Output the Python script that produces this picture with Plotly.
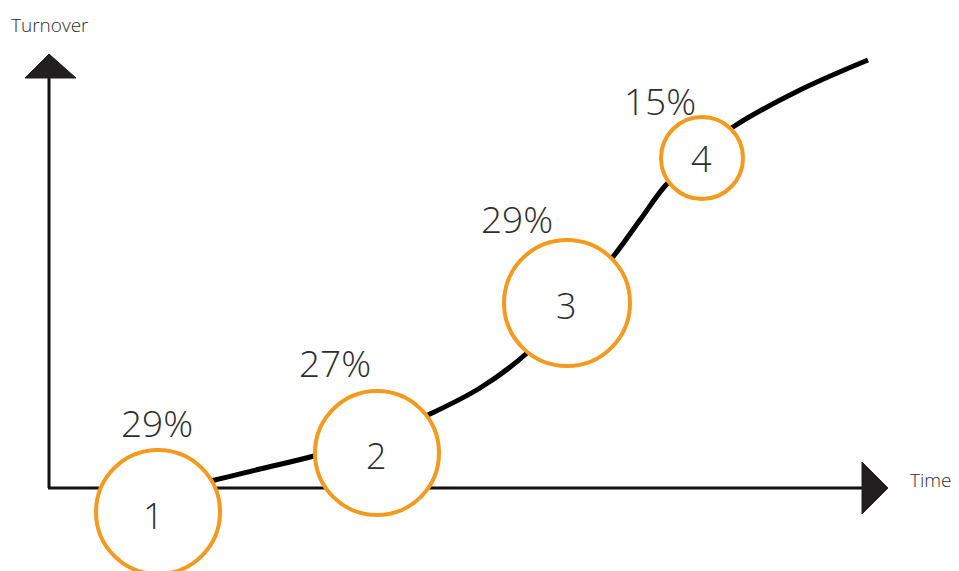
import plotly.graph_objects as go

# Curve (pixel-space readings from the reference)
curve_x = [160, 215, 260, 314, 377, 430, 480, 527, 570, 612, 640, 665, 700, 733, 800, 868]
curve_y = [492, 480, 469, 456, 437, 414, 388, 353, 305, 258, 220, 186, 152, 127, 90, 60]

# Stages (circles)
stage_labels = ["1", "2", "3", "4"]
stage_cx = [158, 377, 567, 702]
stage_cy = [512, 453, 303, 158]
stage_r = [62, 62, 63, 41]
label_x = [153, 376, 566, 701]
label_y = [515, 455, 305, 158]

pct_labels = ["29%", "27%", "29%", "15%"]
pct_x = [157, 335, 517, 660]
pct_y = [422, 362, 218, 100]

W, H = 959, 571
OFF = 8  # page body margin
ORANGE = "#f39a1f"
TXT = "#2e2e2e"
FONT = "Open Sans"

fig = go.Figure()

# axes
fig.add_trace(go.Scatter(x=[49, 49], y=[488, 76], mode="lines",
                         line=dict(color="#111", width=3), hoverinfo="skip"))
fig.add_trace(go.Scatter(x=[48, 864], y=[488, 488], mode="lines",
                         line=dict(color="#111", width=3), hoverinfo="skip"))
# arrowheads
fig.add_trace(go.Scatter(x=[25, 49, 76, 25], y=[78, 54, 78, 78], mode="lines", fill="toself",
                         fillcolor="#231f20", line=dict(color="#231f20", width=1), hoverinfo="skip"))
fig.add_trace(go.Scatter(x=[862, 888, 862, 862], y=[462, 488, 514, 462], mode="lines", fill="toself",
                         fillcolor="#231f20", line=dict(color="#231f20", width=1), hoverinfo="skip"))

# curve
fig.add_trace(go.Scatter(x=curve_x, y=curve_y, mode="lines",
                         line=dict(color="#000", width=5, shape="spline", smoothing=1.0),
                         hoverinfo="skip"))

shapes = []
for cx, cy, r in zip(stage_cx, stage_cy, stage_r):
    shapes.append(dict(type="circle", xref="x", yref="y",
                       x0=cx - r, x1=cx + r, y0=cy - r, y1=cy + r,
                       fillcolor="white", line=dict(color=ORANGE, width=4), layer="above"))

annotations = []
for t, x, y in zip(stage_labels, label_x, label_y):
    annotations.append(dict(x=x, y=y, text=t, showarrow=False, xref="x", yref="y",
                            font=dict(family=FONT, size=36, color=TXT, weight=300)))
for t, x, y in zip(pct_labels, pct_x, pct_y):
    annotations.append(dict(x=x, y=y, text=t, showarrow=False, xref="x", yref="y",
                            font=dict(family=FONT, size=37, color=TXT, weight=300)))
annotations.append(dict(x=9, y=25, text="Turnover", showarrow=False, xref="x", yref="y",
                        xanchor="left", font=dict(family=FONT, size=19, color=TXT, weight=300)))
annotations.append(dict(x=908, y=480, text="Time", showarrow=False, xref="x", yref="y",
                        xanchor="left", font=dict(family=FONT, size=19, color=TXT, weight=300)))

fig.update_layout(
    width=W - OFF, height=H - OFF, margin=dict(l=0, r=0, t=0, b=0),
    paper_bgcolor="white", plot_bgcolor="white", showlegend=False,
    xaxis=dict(range=[OFF, W], visible=False, fixedrange=True),
    yaxis=dict(range=[H, OFF], visible=False, fixedrange=True),
    shapes=shapes, annotations=annotations,
)

fig.write_html("out.html")
